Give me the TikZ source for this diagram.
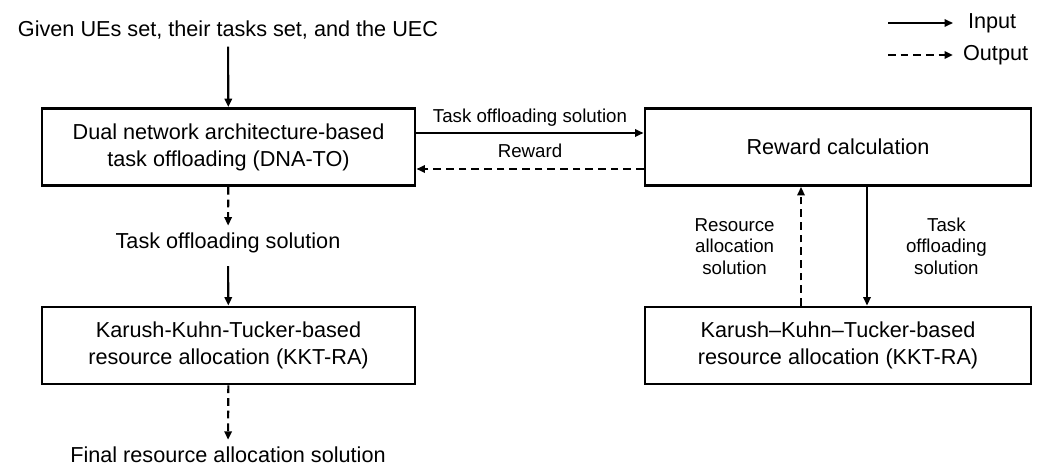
\documentclass[tikz,border=0pt]{standalone}
\usepackage{fontspec}
\setmainfont{Liberation Sans}
\usetikzlibrary{arrows.meta, positioning, calc}

\begin{document}
\begin{tikzpicture}[x=0.025cm, y=-0.025cm, >={Triangle[length=6pt, width=5.2pt]},
    font=\fontsize{15.4}{19.2}\selectfont,
    block/.style={rectangle, draw=black, line width=2pt, minimum height=1.925cm,
      align=center, inner sep=2pt},
    txt/.style={inner sep=5pt},
    flow/.style={->, line width=1.5pt},
    back/.style={->, line width=1.5pt, dash pattern=on 5.5pt off 3.5pt},
    lbl/.style={font=\fontsize{13.3}{15.3}\selectfont, align=center, inner sep=1pt}]

    \useasboundingbox (0,0) rectangle (1051,466);

    % Left column
    \node[txt] (given) at (228,30) {Given UEs set, their tasks set, and the UEC};
    \node[block, minimum width=9.325cm] (dnato) at (228.5,147) {Dual network architecture-based\\task offloading (DNA-TO)};
    \node[txt] (tosol) at (228,243) {Task offloading solution};
    \node[block, minimum width=9.325cm] (kktl) at (228.5,345.5) {Karush-Kuhn-Tucker-based\\resource allocation (KKT-RA)};
    \node[txt] (final) at (228,455) {Final resource allocation solution};

    % Right column
    \node[block, minimum width=9.65cm] (reward) at (838,147) {Reward calculation};
    \node[block, minimum width=9.65cm] (kktr) at (838,345.5) {Karush--Kuhn--Tucker-based\\resource allocation (KKT-RA)};

    % Legend
    \node[anchor=west, inner sep=2pt] (inlbl) at (965,23) {Input};
    \node[anchor=west, inner sep=2pt] (outlbl) at (960,55) {Output};
    \coordinate (inA) at (888,23);
    \coordinate (outA) at (888,55);
    \draw[flow, shorten >=8.5pt] (inA) -- (inlbl.west);
    \draw[back, shorten >=5pt] (outA) -- (outlbl.west);

    % Left flow
    \draw[flow] (given) -- (dnato);
    \draw[back] (dnato) -- (tosol);
    \draw[flow, shorten <=4pt] (tosol) -- (kktl);
    \draw[back] (kktl) -- (final);

    % Between columns
    \draw[flow] ($(dnato.east)+(0,-14)$) -- ($(reward.west)+(0,-14)$)
      node[midway, above=3pt, lbl] {Task offloading solution};
    \draw[back] ($(reward.west)+(0,22)$) -- ($(dnato.east)+(0,22)$)
      node[midway, above=6pt, lbl] {Reward};

    % Right loop
    \draw[back] ($(kktr.north)+(-37,0)$) -- ($(reward.south)+(-37,0)$)
      node[midway, left=17pt, lbl] {Resource\\allocation\\solution};
    \draw[flow] ($(reward.south)+(29,0)$) -- ($(kktr.north)+(29,0)$)
      node[midway, right=26pt, lbl] {Task\\offloading\\solution};
\end{tikzpicture}
\end{document}
